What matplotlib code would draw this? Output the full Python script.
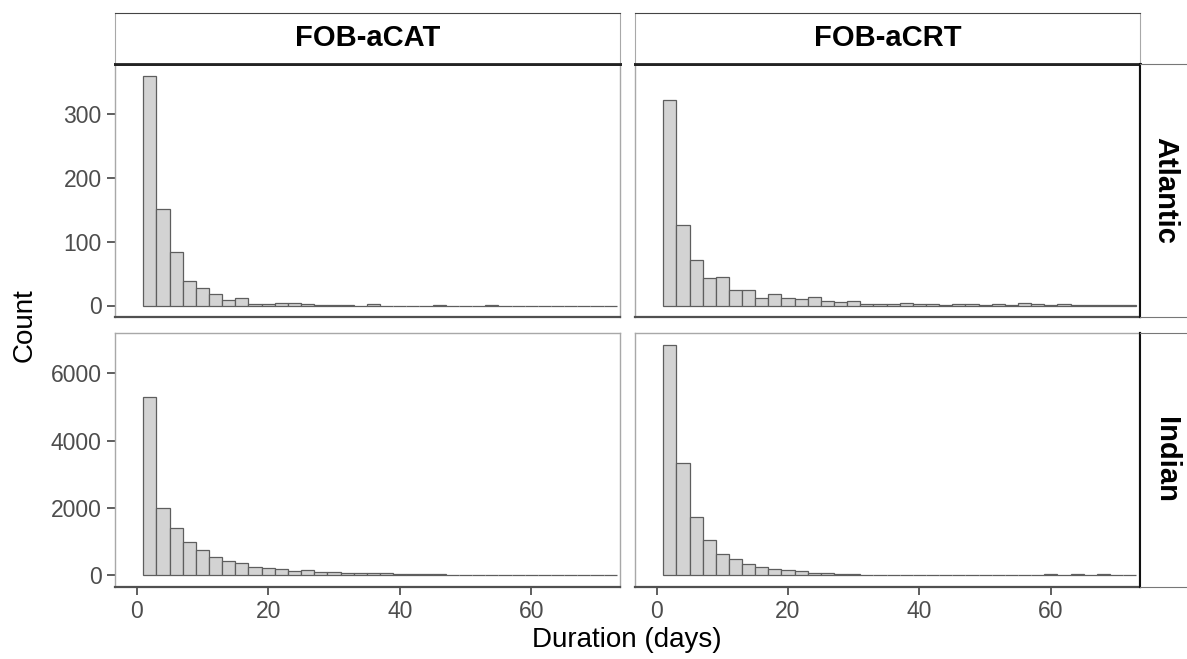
import numpy as np
import matplotlib
matplotlib.use("Agg")
import matplotlib.pyplot as plt

plt.rcParams['font.family'] = ['Liberation Sans', 'DejaVu Sans']

# data: histogram counts, 2-day bins starting at day 1
bin_start = 1
bin_width = 2
gears = ['FOB-aCAT', 'FOB-aCRT']
oceans = ['Atlantic', 'Indian']

atl_cat = [361, 152, 84, 38, 27, 18, 9, 12, 3, 3, 4, 4, 2, 1, 1, 1, 0, 2,
           0, 0, 0, 0, 1, 0, 0, 0, 1, 0, 0, 0, 0, 0, 0, 0, 0, 0]
atl_crt = [322, 127, 71, 43, 45, 25, 24, 12, 18, 11, 10, 13, 7, 5, 7, 3, 3, 3,
           4, 2, 2, 1, 3, 2, 1, 2, 1, 4, 2, 1, 2, 1, 1, 1, 1, 1]
ind_cat = [5300, 2000, 1400, 990, 760, 545, 415, 365, 265, 218, 188, 130, 150,
           110, 108, 70, 68, 58, 58, 40, 40, 38, 38, 28, 0, 0, 0, 0, 0, 0, 0, 0,
           0, 0, 0, 0]
ind_crt = [6850, 3350, 1730, 1040, 635, 475, 337, 257, 188, 158, 119, 69, 59,
           40, 30, 25, 25, 25, 0, 0, 0, 0, 0, 0, 0, 0, 0, 0, 0, 35, 20, 35, 20,
           35, 20, 10]

counts = {('Atlantic', 'FOB-aCAT'): atl_cat, ('Atlantic', 'FOB-aCRT'): atl_crt,
          ('Indian', 'FOB-aCAT'): ind_cat, ('Indian', 'FOB-aCRT'): ind_crt}

x_ticks = [0, 20, 40, 60]
y_ticks = {'Atlantic': [0, 100, 200, 300], 'Indian': [0, 2000, 4000, 6000]}

W, H = 1187, 659
fig = plt.figure(figsize=(W / 100, H / 100), dpi=100)


def rect(x0, y0, x1, y1):
    return [x0 / W, 1 - y1 / H, (x1 - x0) / W, (y1 - y0) / H]


cols_px = [(115, 620), (635, 1139.5)]
rows_px = [(64, 317), (333, 587)]
tick_col = '#4D4D4D'

for r, ocean in enumerate(oceans):
    row_max = max(max(counts[(ocean, g)]) for g in gears)
    for c, gear in enumerate(gears):
        x0, x1 = cols_px[c]
        y0, y1 = rows_px[r]
        ax = fig.add_axes(rect(x0, y0, x1, y1))
        vals = np.array(counts[(ocean, gear)])
        edges = bin_start + bin_width * np.arange(len(vals))
        ax.bar(edges, vals, width=bin_width, align='edge', color='#D3D3D3',
               edgecolor='#5E5E5E', linewidth=0.9)
        ax.set_xlim(-3.3, 73.5)
        ax.set_ylim(-0.05 * row_max, 1.05 * row_max)
        ax.set_xticks(x_ticks)
        ax.set_yticks(y_ticks[ocean])
        for s in ['left', 'right', 'top']:
            ax.spines[s].set_color('#A8A8A8')
            ax.spines[s].set_linewidth(1.0)
        ax.spines['bottom'].set_color('#505050')
        ax.spines['bottom'].set_linewidth(1.6)
        if r == 0:
            ax.spines['top'].set_color('#222222')
            ax.spines['top'].set_linewidth(2)
        if c == 1:
            ax.spines['right'].set_color('#111111')
            ax.spines['right'].set_linewidth(1.5)
        ax.tick_params(axis='both', colors='#333333', labelcolor=tick_col,
                       labelsize=16.5, length=5.5, width=1.1, pad=4)
        if c != 0:
            ax.tick_params(axis='y', left=False, labelleft=False)
        if r != 1:
            ax.tick_params(axis='x', bottom=False, labelbottom=False)

# column strips
for c, gear in enumerate(gears):
    x0, x1 = cols_px[c]
    sa = fig.add_axes(rect(x0, 13, x1 + (0.5 if c == 1 else 0), 64))
    sa.set_xticks([])
    sa.set_yticks([])
    sa.spines['top'].set_color('#444444')
    sa.spines['left'].set_color('#A8A8A8')
    sa.spines['right'].set_color('#A8A8A8')
    sa.spines['bottom'].set_color('#222222')
    sa.spines['bottom'].set_linewidth(2)
    sa.text(0.5, 0.5, gear, ha='center', va='center', fontsize=21,
            fontweight='bold', transform=sa.transAxes)

# row strips (cut off at the right edge)
for r, ocean in enumerate(oceans):
    y0, y1 = rows_px[r]
    sa = fig.add_axes(rect(1139.5, y0, 1205, y1))
    sa.set_xticks([])
    sa.set_yticks([])
    sa.spines['left'].set_color('#111111')
    sa.spines['left'].set_linewidth(1.5)
    sa.spines['top'].set_color('#777777')
    sa.spines['bottom'].set_color('#777777')
    sa.spines['right'].set_visible(False)
    fig.text(1165.5 / W, 1 - (y0 + y1) / 2 / H, ocean, ha='center', va='center',
             rotation=-90, fontsize=21, fontweight='bold')

fig.text(25 / W, 1 - 325 / H, 'Count', rotation=90, ha='center', va='center',
         fontsize=20)
fig.text(627 / W, 1 - 640 / H, 'Duration (days)', ha='center', va='center',
         fontsize=20)

fig.savefig('out.png', dpi=100)
